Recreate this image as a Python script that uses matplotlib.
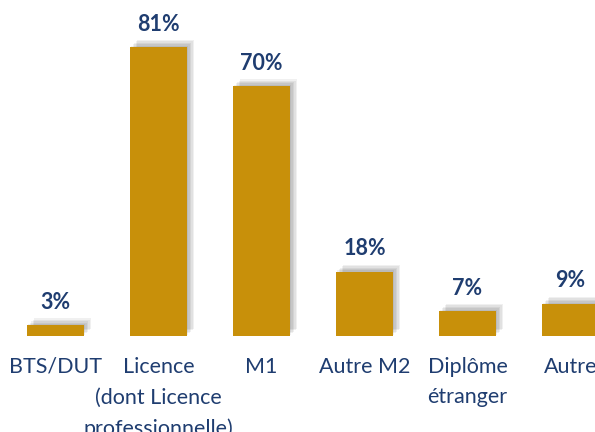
import matplotlib.pyplot as plt
import matplotlib.patheffects as pe

# Diplômes
categories = ["BTS/DUT", "Licence\n(dont Licence\nprofessionnelle)", "M1",
              "Autre M2", "Diplôme\nétranger", "Autre"]
values = [3, 81, 70, 18, 7, 9]
labels = ["3%", "81%", "70%", "18%", "7%", "9%"]

bar_color = "#C8900A"
text_color = "#1F3D70"

plt.rcParams['font.family'] = ['Lato', 'DejaVu Sans']

fig = plt.figure(figsize=(5.95, 4.32), dpi=100)
ax = fig.add_axes([0, 0.2222, 1, 0.7433])

x = range(len(values))

# soft shadow behind the bars
shadow = [pe.SimplePatchShadow(offset=(o, o), shadow_rgbFace='#000000', alpha=0.06)
          for o in (1, 2, 3, 4, 5)]
shadow.append(pe.Normal())

bars = ax.bar(x, values, width=0.553, color=bar_color, zorder=3)
for b in bars:
    b.set_path_effects(shadow)

for xi, v, lab in zip(x, values, labels):
    ax.annotate(lab, (xi, v), xytext=(0, 9), textcoords='offset points',
                ha='center', va='bottom', fontsize=15.5, fontweight='bold',
                color=text_color)

ax.set_xticks(list(x))
ax.set_xticklabels(categories, fontsize=15.5, color=text_color, linespacing=1.66)
ax.tick_params(axis='x', length=0, pad=15)
ax.set_yticks([])
for s in ax.spines.values():
    s.set_visible(False)
ax.set_facecolor('none')

ax.set_xlim(-0.539, 5.238)
ax.set_ylim(0, 90)

fig.savefig("out.png", dpi=100)
